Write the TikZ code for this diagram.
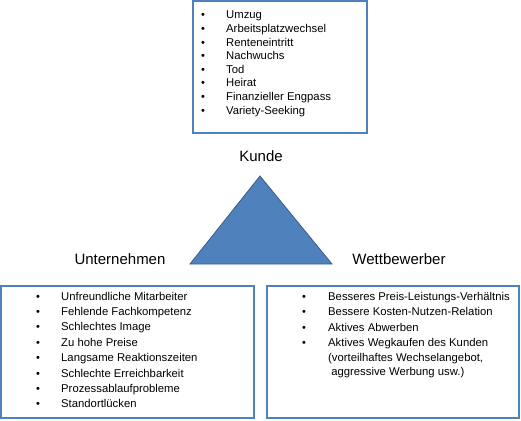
\documentclass[tikz,border=0pt]{standalone}
\usepackage{fontspec}
\setmainfont{Liberation Sans}
\usetikzlibrary{positioning}

\definecolor{boxblue}{RGB}{79,129,189}
\definecolor{triedge}{RGB}{56,93,138}

\begin{document}
\begin{tikzpicture}[x=1pt, y=-1pt,
        listbox/.style={draw=boxblue, line width=1.8pt},
        item/.style={anchor=base west, inner sep=0pt, font=\fontsize{11.3}{13}\selectfont},
        bul/.style={anchor=base, inner sep=0pt, font=\fontsize{11}{13}\selectfont},
        corner/.style={anchor=base, inner sep=0pt, font=\fontsize{15}{18}\selectfont}]
        \useasboundingbox (0,0) rectangle (521,420);

        % the three boxes
        \draw[listbox] (193,1) rectangle (367,133);
        \draw[listbox] (1,286) rectangle (254,418);
        \draw[listbox] (267,286) rectangle (519,418);

        % Kunde
        \foreach \t [count=\i from 0] in {Umzug, Arbeitsplatzwechsel, Renteneintritt, Nachwuchs,
                Tod, Heirat, Finanzieller Engpass, Variety-Seeking} {
            \node[bul] (kb\i) at (203, {18.8+13.6*\i}) {\textbullet};
            \node[item] (k\i) at (226, {18.8+13.6*\i}) {\t};
        }

        % Unternehmen
        \foreach \t [count=\i from 0] in {Unfreundliche Mitarbeiter, Fehlende Fachkompetenz,
                Schlechtes Image, Zu hohe Preise, Langsame Reaktionszeiten,
                Schlechte Erreichbarkeit, Prozessablaufprobleme, Standortlücken} {
            \node[bul] (ub\i) at (38, {300+15.4*\i}) {\textbullet};
            \node[item] (u\i) at (61, {300+15.4*\i}) {\t};
        }

        % Wettbewerber
        \foreach \t [count=\i from 0] in {Besseres Preis-Leistungs-Verhältnis,
                Bessere Kosten-Nutzen-Relation, Aktives Abwerben, Aktives Wegkaufen des Kunden} {
            \node[bul] (wb\i) at (304, {300+15.6*\i}) {\textbullet};
            \node[item] (w\i) at (328, {300+15.6*\i}) {\t};
        }
        \node[item] (w4) at (328, 361) {(vorteilhaftes Wechselangebot,};
        \node[item] (w5) at (328, 375) {\ aggressive Werbung usw.)};

        % triangle
        \coordinate (top) at (260,176);
        \coordinate (left) at (190,264);
        \coordinate (right) at (332,264);
        \draw[fill=boxblue, draw=triedge, line width=.8pt] (top) -- (right) -- (left) -- cycle;

        \node[corner] (kunde) at (261,161.5) {Kunde};
        \node[corner] (unternehmen) at (120,264) {Unternehmen};
        \node[corner] (wettbewerber) at (399,264) {Wettbewerber};
    \end{tikzpicture}
\end{document}
